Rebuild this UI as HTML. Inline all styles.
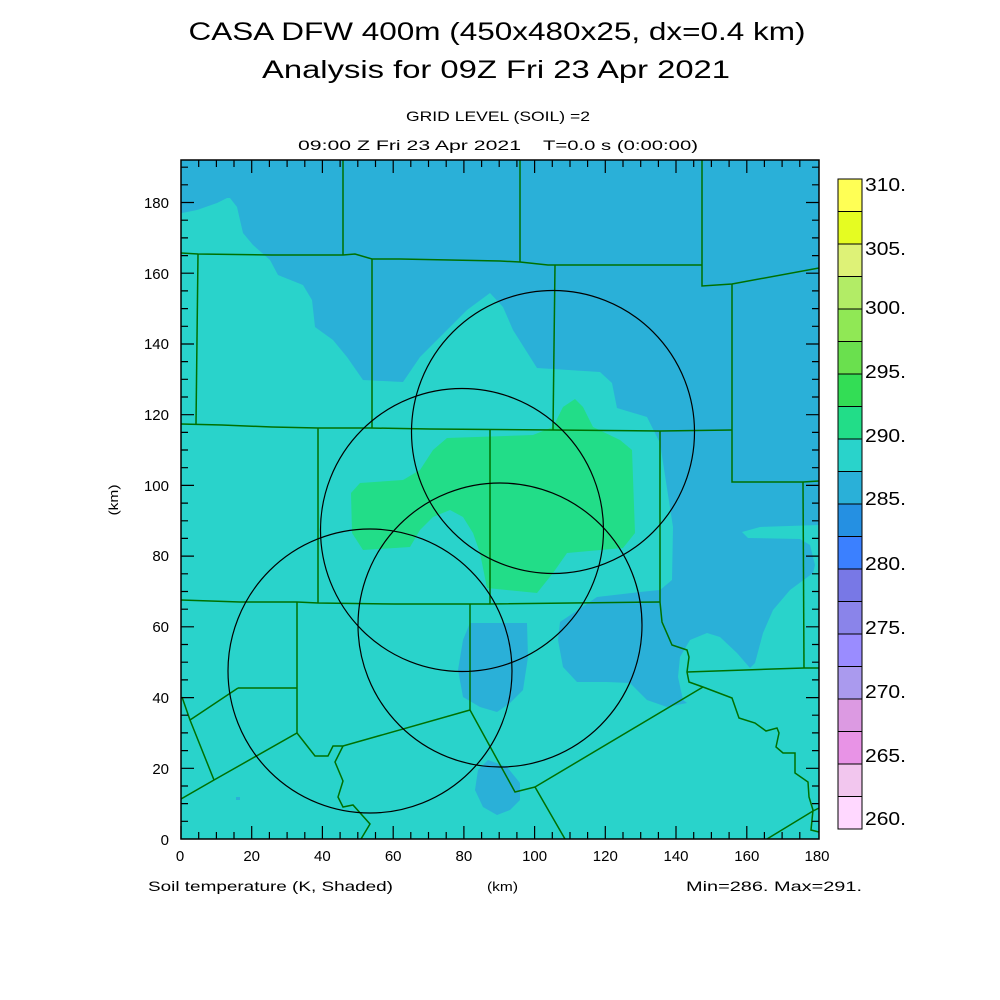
<!DOCTYPE html>
<html><head><meta charset="utf-8"><style>html,body{margin:0;padding:0;background:#fff}svg{display:block}</style></head><body>
<svg width="1000" height="1000" viewBox="0 0 1000 1000" xmlns="http://www.w3.org/2000/svg" font-family="Liberation Sans, sans-serif">
<rect width="1000" height="1000" fill="#fff"/>
<g fill="#000">
<text x="497" y="40" font-size="25" text-anchor="middle" textLength="617" lengthAdjust="spacingAndGlyphs">CASA DFW 400m (450x480x25, dx=0.4 km)</text>
<text x="496" y="78" font-size="25" text-anchor="middle" textLength="468" lengthAdjust="spacingAndGlyphs">Analysis for 09Z Fri 23 Apr 2021</text>
<text x="498" y="121" font-size="14" text-anchor="middle" textLength="184" lengthAdjust="spacingAndGlyphs">GRID LEVEL (SOIL) =2</text>
<text x="298" y="150" font-size="14" textLength="223" lengthAdjust="spacingAndGlyphs">09:00 Z Fri 23 Apr 2021</text>
<text x="543" y="150" font-size="14" textLength="155" lengthAdjust="spacingAndGlyphs">T=0.0 s (0:00:00)</text>
<text x="148" y="891" font-size="14" textLength="245" lengthAdjust="spacingAndGlyphs">Soil temperature (K, Shaded)</text>
<text x="487" y="891" font-size="13" textLength="31" lengthAdjust="spacingAndGlyphs">(km)</text>
<text x="686" y="891" font-size="14" textLength="176" lengthAdjust="spacingAndGlyphs">Min=286. Max=291.</text>
<text transform="translate(118,500) rotate(-90)" font-size="13" text-anchor="middle" textLength="31" lengthAdjust="spacingAndGlyphs">(km)</text>
</g>
<clipPath id="pc"><rect x="181" y="160" width="638" height="679"/></clipPath>
<g clip-path="url(#pc)">
<rect x="181" y="160" width="638" height="679" fill="#29d3cb"/>
<polygon fill="#2ab0d8" points="181,160 819,160 819,525 760,527 742,532 748,538 800,539 810,545 815,565 813,573 790,590 773,610 763,633 755,663 750,668 737,653 720,637 707,633 690,640 680,657 678,677 683,700 687,703 667,707 647,700 630,683 607,682 577,682 563,667 558,640 560,622 597,597 640,592 660,590 672,580 673,527 660,443 647,417 617,408 612,383 600,372 537,368 513,330 503,307 490,293 467,310 440,337 420,357 403,382 363,380 347,357 333,340 315,327 312,300 303,285 278,275 270,260 253,245 243,233 237,207 230,198 227,198 217,203 197,210 182,213 181,213"/>
<polygon fill="#22dd88" points="351,493 360,483 403,480 420,470 433,450 447,438 533,435 553,427 563,407 575,399 583,407 593,427 620,440 632,450 635,533 623,548 567,553 553,573 537,593 487,588 480,553 473,533 463,517 450,510 433,517 420,530 410,547 363,550 352,533"/>
<polygon fill="#2ab0d8" points="470,623 527,623 528,657 523,690 510,703 497,712 480,707 463,697 458,670 463,640"/>
<polygon fill="#2ab0d8" points="488,760 507,767 520,783 520,800 510,810 497,815 483,807 475,790 478,770"/>
<rect x="236" y="797" width="4" height="3" fill="#2ab0d8"/>
<g fill="none" stroke="#007000" stroke-width="1.5">
<polyline points="343,160 343,255"/>
<polyline points="520,160 520,262"/>
<polyline points="702,160 702,286 732,284 819,268"/>
<polyline points="181,253 198,254 272,255 343,255 355,254 372,259 400,259 500,261 520,262 548,265 702,265"/>
<polyline points="198,254 196,424"/>
<polyline points="372,259 372,428"/>
<polyline points="555,265 553,430"/>
<polyline points="732,284 732,482 803,482 819,481"/>
<polyline points="181,424 222,425 272,427 318,428 370,428 430,429 553,430 660,431 732,430"/>
<polyline points="318,428 318,603"/>
<polyline points="490,429 490,604"/>
<polyline points="660,431 660,602"/>
<polyline points="181,600 240,602 297,602 318,603 395,604 490,604 660,602"/>
<polyline points="803,482 804,668"/>
<polyline points="470,604 470,710"/>
<polyline points="297,602 297,733"/>
<polyline points="238,688 297,688"/>
<polyline points="182,697 190,720 214,780"/>
<polyline points="190,720 238,688"/>
<polyline points="181,799 214,780 297,733 315,756 328,756 333,746 343,746 470,710"/>
<polyline points="343,746 335,762 343,781 338,797 343,807 353,805 370,824 361,839"/>
<polyline points="470,710 515,792 535,787 565,839"/>
<polyline points="535,787 703,687"/>
<polyline points="660,602 662,622 672,645 687,650 689,657 687,672 689,682 703,687 732,698 739,718 755,723 766,731 777,728 779,733 776,747 783,753 795,753 795,773 808,782 809,797 813,810 811,830 819,832"/>
<polyline points="687,672 773,669 804,668 819,668"/>
<polyline points="767,839 813,811 819,808"/>
</g>
<g fill="none" stroke="#000" stroke-width="1.2">
<circle cx="553" cy="432" r="141.5"/>
<circle cx="462" cy="530" r="141.5"/>
<circle cx="500" cy="625" r="142"/>
<circle cx="370" cy="671" r="142"/>
</g>
</g>
<rect x="181" y="160" width="638" height="679" fill="none" stroke="#000" stroke-width="1.5"/>
<g stroke="#000" stroke-width="1.2">
<path d="M181,839v-13M198.7,839v-7M216.4,839v-7M234,839v-7M251.7,839v-13M269.4,839v-7M287.1,839v-7M304.8,839v-7M322.4,839v-13M340.1,839v-7M357.8,839v-7M375.5,839v-7M393.2,839v-13M410.8,839v-7M428.5,839v-7M446.2,839v-7M463.9,839v-13M481.6,839v-7M499.2,839v-7M516.9,839v-7M534.6,839v-13M552.3,839v-7M570,839v-7M587.6,839v-7M605.3,839v-13M623,839v-7M640.7,839v-7M658.4,839v-7M676,839v-13M693.7,839v-7M711.4,839v-7M729.1,839v-7M746.8,839v-13M764.4,839v-7M782.1,839v-7M799.8,839v-7"/>
<path d="M198.7,160v7M216.4,160v7M234,160v7M251.7,160v13M269.4,160v7M287.1,160v7M304.8,160v7M322.4,160v13M340.1,160v7M357.8,160v7M375.5,160v7M393.2,160v13M410.8,160v7M428.5,160v7M446.2,160v7M463.9,160v13M481.6,160v7M499.2,160v7M516.9,160v7M534.6,160v13M552.3,160v7M570,160v7M587.6,160v7M605.3,160v13M623,160v7M640.7,160v7M658.4,160v7M676,160v13M693.7,160v7M711.4,160v7M729.1,160v7M746.8,160v13M764.4,160v7M782.1,160v7M799.8,160v7"/>
<path d="M181,821.3h7M181,803.6h7M181,786h7M181,768.3h13M181,750.6h7M181,732.9h7M181,715.2h7M181,697.6h13M181,679.9h7M181,662.2h7M181,644.5h7M181,626.8h13M181,609.2h7M181,591.5h7M181,573.8h7M181,556.1h13M181,538.4h7M181,520.8h7M181,503.1h7M181,485.4h13M181,467.7h7M181,450h7M181,432.4h7M181,414.7h13M181,397h7M181,379.3h7M181,361.6h7M181,344h13M181,326.3h7M181,308.6h7M181,290.9h7M181,273.2h13M181,255.6h7M181,237.9h7M181,220.2h7M181,202.5h13M181,184.8h7M181,167.2h7"/>
<path d="M819,821.3h-7M819,803.6h-7M819,786h-7M819,768.3h-13M819,750.6h-7M819,732.9h-7M819,715.2h-7M819,697.6h-13M819,679.9h-7M819,662.2h-7M819,644.5h-7M819,626.8h-13M819,609.2h-7M819,591.5h-7M819,573.8h-7M819,556.1h-13M819,538.4h-7M819,520.8h-7M819,503.1h-7M819,485.4h-13M819,467.7h-7M819,450h-7M819,432.4h-7M819,414.7h-13M819,397h-7M819,379.3h-7M819,361.6h-7M819,344h-13M819,326.3h-7M819,308.6h-7M819,290.9h-7M819,273.2h-13M819,255.6h-7M819,237.9h-7M819,220.2h-7M819,202.5h-13M819,184.8h-7M819,167.2h-7"/>
</g>
<g font-size="15" fill="#000" text-anchor="middle">
<text x="180" y="861">0</text><text x="251.7" y="861">20</text><text x="322.4" y="861">40</text><text x="393.2" y="861">60</text><text x="463.9" y="861">80</text><text x="534.6" y="861">100</text><text x="605.3" y="861">120</text><text x="676" y="861">140</text><text x="746.8" y="861">160</text><text x="817" y="861">180</text>
</g>
<g font-size="15" fill="#000" text-anchor="end">
<text x="169" y="845">0</text><text x="169" y="774">20</text><text x="169" y="703">40</text><text x="169" y="632">60</text><text x="169" y="561">80</text><text x="169" y="491">100</text><text x="169" y="420">120</text><text x="169" y="349">140</text><text x="169" y="279">160</text><text x="169" y="208">180</text>
</g>
<g stroke="#000" stroke-width="1">
<rect x="838" y="179" width="24" height="32.5" fill="#ffff55"/>
<rect x="838" y="211.5" width="24" height="32.5" fill="#e5fc22"/>
<rect x="838" y="244" width="24" height="32.5" fill="#def277"/>
<rect x="838" y="276.5" width="24" height="32.5" fill="#b2ec66"/>
<rect x="838" y="309" width="24" height="32.5" fill="#90e855"/>
<rect x="838" y="341.5" width="24" height="32.5" fill="#6ae04e"/>
<rect x="838" y="374" width="24" height="32.5" fill="#33dd55"/>
<rect x="838" y="406.5" width="24" height="32.5" fill="#22dd88"/>
<rect x="838" y="439" width="24" height="32.5" fill="#29d3cb"/>
<rect x="838" y="471.5" width="24" height="32.5" fill="#2ab0d8"/>
<rect x="838" y="504" width="24" height="32.5" fill="#2590e2"/>
<rect x="838" y="536.5" width="24" height="32.5" fill="#3b80ff"/>
<rect x="838" y="569" width="24" height="32.5" fill="#7878e6"/>
<rect x="838" y="601.5" width="24" height="32.5" fill="#8a84ea"/>
<rect x="838" y="634" width="24" height="32.5" fill="#9a8cff"/>
<rect x="838" y="666.5" width="24" height="32.5" fill="#aa9aee"/>
<rect x="838" y="699" width="24" height="32.5" fill="#dc9ae2"/>
<rect x="838" y="731.5" width="24" height="32.5" fill="#e893e6"/>
<rect x="838" y="764" width="24" height="32.5" fill="#f2c6ee"/>
<rect x="838" y="796.5" width="24" height="32.5" fill="#ffd8ff"/>
</g>
<g font-size="18" fill="#000">
<text x="865" y="191" textLength="41" lengthAdjust="spacingAndGlyphs">310.</text>
<text x="865" y="255" textLength="41" lengthAdjust="spacingAndGlyphs">305.</text>
<text x="865" y="314" textLength="41" lengthAdjust="spacingAndGlyphs">300.</text>
<text x="865" y="378" textLength="41" lengthAdjust="spacingAndGlyphs">295.</text>
<text x="865" y="442" textLength="41" lengthAdjust="spacingAndGlyphs">290.</text>
<text x="865" y="505" textLength="41" lengthAdjust="spacingAndGlyphs">285.</text>
<text x="865" y="570" textLength="41" lengthAdjust="spacingAndGlyphs">280.</text>
<text x="865" y="634" textLength="41" lengthAdjust="spacingAndGlyphs">275.</text>
<text x="865" y="698" textLength="41" lengthAdjust="spacingAndGlyphs">270.</text>
<text x="865" y="762" textLength="41" lengthAdjust="spacingAndGlyphs">265.</text>
<text x="865" y="825" textLength="41" lengthAdjust="spacingAndGlyphs">260.</text>
</g>
</svg>
</body></html>
